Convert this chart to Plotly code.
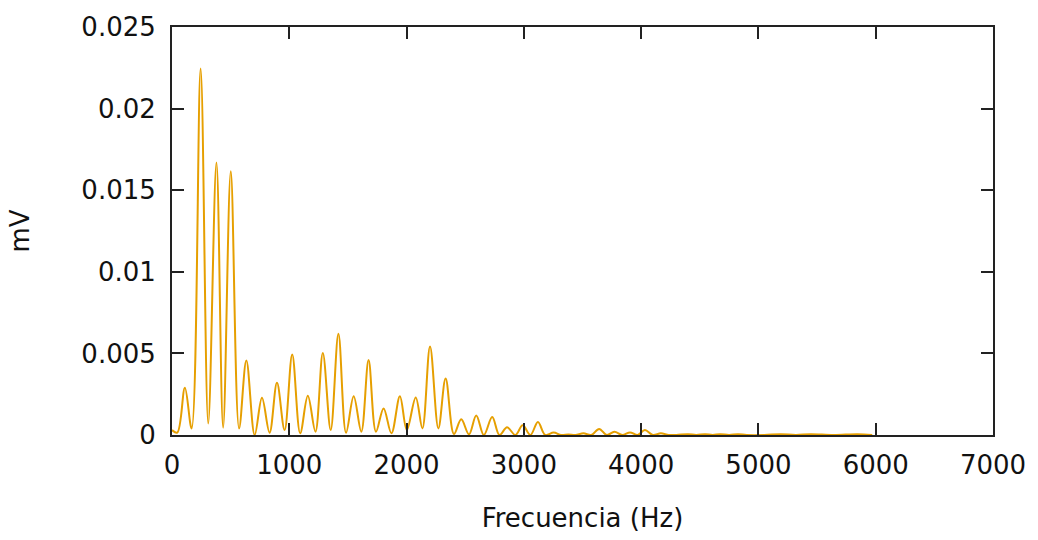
import plotly.graph_objects as go

# Frequency (Hz) of read peaks / troughs of the spectrum
freq = [0, 45, 110, 167, 244, 309, 379, 436, 501, 572, 634, 705, 767, 832, 895,
        960, 1025, 1093, 1158, 1223, 1286, 1353, 1419, 1484, 1549, 1614, 1676,
        1739, 1804, 1871, 1943, 2002, 2078, 2135, 2200, 2271, 2333, 2404, 2466,
        2532, 2594, 2659, 2730, 2792, 2857, 2928, 2990, 3056, 3120, 3182, 3254,
        3318, 3380, 3440, 3508, 3575, 3642, 3707, 3772, 3840, 3905, 3970, 4032,
        4100, 4168, 4235, 4300, 4400, 4470, 4545, 4610, 4673, 4750, 4826, 4900,
        5050, 5190, 5320, 5445, 5640, 5845, 5970]
# Amplitude (mV)
amp = [0.0003, 0.00015, 0.0029, 0.0004, 0.02246, 0.0007, 0.0167, 0.00045, 0.01616,
       0.0004, 0.00457, 0.0, 0.00228, 0.00014, 0.0032, 0.0003, 0.00494, 0.0001,
       0.0024, 0.0002, 0.00502, 0.0003, 0.0062, 0.00014, 0.00238, 0.0002, 0.0046,
       0.0002, 0.00163, 0.0001, 0.00238, 0.0003, 0.0023, 0.0004, 0.00543, 0.0004,
       0.00346, 0.00006, 0.00096, 0.00004, 0.0012, 0.0, 0.0011, 0.0, 0.00047, 0.0,
       0.0006, 0.0, 0.0008, 0.0, 0.00015, 0.0, 0.00003, 0.0, 0.0001, 0.0, 0.00037,
       0.0, 0.0002, 0.0, 0.00016, 0.0, 0.0003, 0.0, 0.0001, 0.0, 0.0, 0.00005, 0.0,
       0.00005, 0.0, 0.00005, 0.0, 0.00005, 0.0, 0.0, 0.00005, 0.0, 0.00005, 0.0,
       0.00005, 0.0]

x_ticks = [0, 1000, 2000, 3000, 4000, 5000, 6000, 7000]
x_tick_labels = ["0", "1000", "2000", "3000", "4000", "5000", "6000", "7000"]
y_ticks = [0, 0.005, 0.01, 0.015, 0.02, 0.025]
y_tick_labels = ["0", "0.005", "0.01", "0.015", "0.02", "0.025"]

FONT = "DejaVu Sans"
FS = 26

fig = go.Figure()
fig.add_trace(go.Scatter(
    x=freq, y=amp, mode="lines",
    line=dict(color="#E69F00", width=2, shape="spline", smoothing=1.0),
    showlegend=False, hoverinfo="x+y",
))

axis_common = dict(
    showline=True, linecolor="#222222", linewidth=2, mirror="ticks",
    ticks="inside", ticklen=12, tickwidth=2, tickcolor="#222222",
    showgrid=False, zeroline=False,
    tickfont=dict(family=FONT, size=FS, color="#111111"),
)

fig.update_layout(
    width=1038, height=540,
    margin=dict(l=172, r=42, t=25, b=104),
    paper_bgcolor="white", plot_bgcolor="white",
    font=dict(family=FONT, size=FS, color="#111111"),
    xaxis=dict(range=[0, 7000], tickvals=x_ticks, ticktext=x_tick_labels,
               title=dict(text="Frecuencia (Hz)", standoff=30,
                          font=dict(family=FONT, size=FS, color="#111111")),
               ticklabelstandoff=6, **axis_common),
    yaxis=dict(range=[0, 0.025], tickvals=y_ticks, ticktext=y_tick_labels,
               title=dict(text="mV", standoff=44,
                          font=dict(family=FONT, size=FS, color="#111111")),
               ticklabelstandoff=9, **axis_common),
)

fig.write_html("out.html")
